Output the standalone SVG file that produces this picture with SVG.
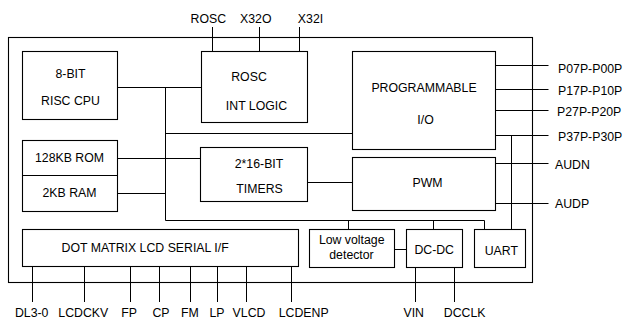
<svg xmlns="http://www.w3.org/2000/svg" width="624" height="320" viewBox="0 0 624 320">
<style>
rect{fill:none;stroke:#000;stroke-width:1.1}
.w line,.w polyline{stroke:#000;stroke-width:1;fill:none}
text{font-family:"Liberation Sans",Arial,sans-serif;font-size:12.3px;fill:#000}
.m{text-anchor:middle}
</style>
<rect x="8.5" y="37.5" width="524" height="245"/>
<g id="cpu"><rect x="22.5" y="51.5" width="95" height="68"/><text class="m" x="70.5" y="77.5">8-BIT</text><text class="m" x="70.5" y="105">RISC CPU</text></g>
<g id="rosc"><rect x="201.5" y="51.5" width="106" height="71"/><text class="m" x="249" y="80.5">ROSC</text><text class="m" x="256.5" y="110">INT LOGIC</text></g>
<g id="pio"><rect x="352.5" y="51.5" width="143" height="98"/><text class="m" x="424" y="92">PROGRAMMABLE</text><text class="m" x="425.5" y="124">I/O</text></g>
<g id="mem"><rect x="22.5" y="140.5" width="95" height="71"/><line x1="22.5" y1="175.5" x2="117.5" y2="175.5" stroke="#000"/><text class="m" x="69.5" y="162">128KB ROM</text><text class="m" x="69.5" y="197.3">2KB RAM</text></g>
<g id="timers"><rect x="200.5" y="147.5" width="107" height="54"/><text class="m" x="259" y="168.3">2*16-BIT</text><text class="m" x="259.5" y="193.3">TIMERS</text></g>
<g id="pwm"><rect x="352.5" y="157.5" width="143" height="53"/><text class="m" x="427.5" y="186.7">PWM</text></g>
<g id="lcd"><rect x="22.5" y="229.5" width="276" height="37"/><text x="61.5" y="251.7">DOT MATRIX LCD SERIAL I/F</text></g>
<g id="lvd"><rect x="309.5" y="229.5" width="85" height="38"/><text class="m" x="351.7" y="244">Low voltage</text><text class="m" x="351.5" y="259.3">detector</text></g>
<g id="dcdc"><rect x="406.5" y="229.5" width="56" height="38"/><text class="m" x="434.2" y="254.3">DC-DC</text></g>
<g id="uart"><rect x="474.5" y="229.5" width="51" height="38"/><text class="m" x="501.3" y="255">UART</text></g>
<g id="connectors" class="w">
<line x1="117.5" y1="87.5" x2="201.5" y2="87.5"/>
<line x1="165.5" y1="87.5" x2="165.5" y2="220.5"/>
<line x1="165.5" y1="133.5" x2="352.5" y2="133.5"/>
<line x1="117.5" y1="158.5" x2="200.5" y2="158.5"/>
<line x1="117.5" y1="193.5" x2="165.5" y2="193.5"/>
<line x1="307.5" y1="182.5" x2="352.5" y2="182.5"/>
<polyline points="165.5,220.5 484.5,220.5 484.5,229.5"/>
<line x1="348.5" y1="220.5" x2="348.5" y2="229.5"/>
<line x1="433.5" y1="220.5" x2="433.5" y2="229.5"/>
<line x1="394.5" y1="249.5" x2="406.5" y2="249.5"/>
<line x1="495.5" y1="65.5" x2="548.5" y2="65.5"/>
<line x1="495.5" y1="89.5" x2="548.5" y2="89.5"/>
<line x1="495.5" y1="110.5" x2="548.5" y2="110.5"/>
<line x1="495.5" y1="135.5" x2="548.5" y2="135.5"/>
<line x1="511.5" y1="135.5" x2="511.5" y2="229.5"/>
<line x1="495.5" y1="163.5" x2="548.5" y2="163.5"/>
<line x1="495.5" y1="203.5" x2="548.5" y2="203.5"/>
<line x1="212.5" y1="27" x2="212.5" y2="51.5"/>
<line x1="259.5" y1="27" x2="259.5" y2="51.5"/>
<line x1="299.5" y1="27" x2="299.5" y2="51.5"/>
<line x1="32.5" y1="266.5" x2="32.5" y2="302"/>
<line x1="84.5" y1="266.5" x2="84.5" y2="302"/>
<line x1="130.5" y1="266.5" x2="130.5" y2="302"/>
<line x1="159.5" y1="266.5" x2="159.5" y2="302"/>
<line x1="190.5" y1="266.5" x2="190.5" y2="302"/>
<line x1="217.5" y1="266.5" x2="217.5" y2="302"/>
<line x1="246.5" y1="266.5" x2="246.5" y2="302"/>
<line x1="291.5" y1="266.5" x2="291.5" y2="302"/>
<line x1="415.5" y1="267.5" x2="415.5" y2="302"/>
<line x1="454.5" y1="267.5" x2="454.5" y2="302"/>
</g>
<g id="pins">
<text class="m" x="208.3" y="23">ROSC</text>
<text class="m" x="255.8" y="23">X32O</text>
<text class="m" x="310.5" y="23">X32I</text>
<text x="558" y="72.5">P07P-P00P</text>
<text x="558" y="95">P17P-P10P</text>
<text x="557" y="116">P27P-P20P</text>
<text x="558" y="141">P37P-P30P</text>
<text x="555" y="169.3">AUDN</text>
<text x="555" y="208.3">AUDP</text>
<text class="m" x="31.7" y="316.5">DL3-0</text>
<text class="m" x="83.3" y="316.5">LCDCKV</text>
<text class="m" x="129" y="316.5">FP</text>
<text class="m" x="161" y="316.5">CP</text>
<text class="m" x="190" y="316.5">FM</text>
<text class="m" x="217" y="316.5">LP</text>
<text class="m" x="249" y="316.5">VLCD</text>
<text class="m" x="303.7" y="316.5">LCDENP</text>
<text class="m" x="413.7" y="316.5">VIN</text>
<text class="m" x="464.7" y="316.5">DCCLK</text>
</g>
</svg>
